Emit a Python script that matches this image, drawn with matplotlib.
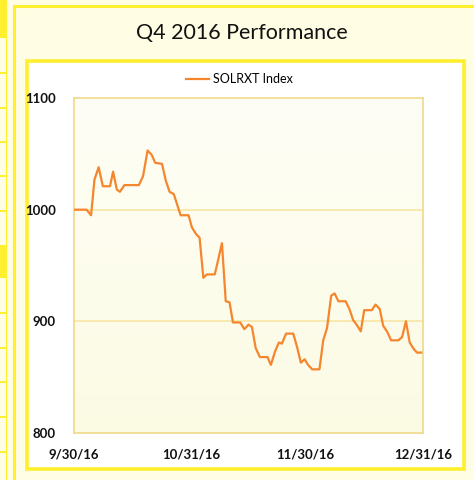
import matplotlib
matplotlib.use("Agg")
import matplotlib.pyplot as plt
import matplotlib.dates as mdates
from matplotlib.patches import Rectangle
from matplotlib.colors import LinearSegmentedColormap
import numpy as np
import pandas as pd

# ---- data ----
start_date = "2016-09-30"
day_offsets = [0, 3.3, 4.5, 5.4, 6.5, 7.6, 9.5, 10.3, 11.3, 12.1, 13.3, 17.1, 18.2, 19.4,
               20.5, 21.4, 23.2, 24.2, 25.2, 26.3, 28.1, 30.2, 31.1, 32.2, 33.1, 34.1,
               35.0, 37.1, 38.0, 39.0, 40.0, 41.0, 41.9, 43.8, 44.9, 46.0, 46.9, 47.9,
               49.0, 51.0, 51.9, 53.0, 54.0, 54.8, 55.9, 57.8, 58.8, 59.8, 60.8, 61.7,
               62.8, 64.7, 65.7, 66.7, 67.8, 68.7, 69.7, 71.6, 72.6, 73.6, 74.5, 75.6,
               76.5, 78.5, 79.5, 80.6, 81.5, 82.5, 83.6, 85.5, 86.5, 87.5, 88.5, 89.4,
               90.4, 91.5]
solrxt = [1000, 1000, 995, 1027, 1038, 1021, 1021, 1034, 1018, 1016, 1022, 1022, 1030, 1053,
          1049, 1042, 1041, 1026, 1016, 1014, 995, 995, 984, 978, 975, 939,
          942, 942, 955, 970, 918, 917, 899, 899, 893, 897, 895, 876,
          868, 868, 861, 873, 881, 880, 889, 889, 877, 863, 866, 861,
          857, 857, 883, 894, 923, 925, 918, 918, 911, 901, 897, 891,
          910, 910, 915, 911, 896, 891, 883, 883, 886, 900, 881, 876,
          872, 872]
series_name = "SOLRXT Index"
title = "Q4 2016 Performance"
xtick_dates = ["2016-09-30", "2016-10-31", "2016-11-30", "2016-12-31"]
xtick_labels = ["9/30/16", "10/31/16", "11/30/16", "12/31/16"]
yticks = [800, 900, 1000, 1100]

# ---- style ----
W, H = 474, 480
plt.rcParams['font.family'] = ['Lato', 'DejaVu Sans']
BG = "#FFFDE4"
YEL = "#FFEF2E"
fig = plt.figure(figsize=(W / 100, H / 100), dpi=100)
fig.patch.set_facecolor(BG)

def prect(x0, y0, x1, y1, **kw):
    r = Rectangle((x0 / W, 1 - y1 / H), (x1 - x0) / W, (y1 - y0) / H,
                  transform=fig.transFigure, zorder=-5, **kw)
    fig.patches.append(r)

# left strip (neighbouring table)
prect(0, 0, 6, 38, facecolor=YEL, edgecolor='none')
prect(0, 245, 6, 278, facecolor=YEL, edgecolor='none')
for yy in [73, 108, 142, 176, 211, 313, 348, 382, 417, 452]:
    prect(0, yy - 0.7, 6, yy + 0.7, facecolor=YEL, edgecolor='none')
prect(5.5, 0, 7, H, facecolor=YEL, edgecolor='none')

# outer card border
prect(14, 6, W + 5, H + 5, facecolor='none', edgecolor=YEL, linewidth=2.2)
# inner white box
prect(27, 61, 464, 469, facecolor='white', edgecolor=YEL, linewidth=2.6)

fig.text(242 / W, 1 - 33 / H, title, ha='center', va='center', fontsize=15.5,
         color='#111111')

ax = fig.add_axes([74 / W, 1 - 433 / H, 349 / W, 335 / H])
ax.set_zorder(5)
base = pd.Timestamp(start_date)
dates = [base + pd.Timedelta(days=d) for d in day_offsets]
xnum = mdates.date2num(dates)

# gradient background (lighter at top)
grad = np.linspace(0, 1, 256).reshape(-1, 1)
cmap = LinearSegmentedColormap.from_list("bg", ["#FFFEF6", "#FBFBE4"])
ax.imshow(grad, aspect='auto', cmap=cmap, extent=[0, 1, 0, 1], origin='upper',
          transform=ax.transAxes, zorder=0)

for v in [900, 1000]:
    ax.axhline(v, color='#F7E9AE', linewidth=1.4, zorder=1)

ax.plot(xnum, solrxt, color='#F5862E', linewidth=1.6, label=series_name, zorder=3)

ax.set_xlim(mdates.date2num(pd.Timestamp(xtick_dates[0])),
            mdates.date2num(pd.Timestamp(xtick_dates[-1])))
ax.set_ylim(800, 1100)
ax.set_yticks(yticks)
ax.set_yticklabels([str(v) for v in yticks], fontsize=9.5, fontweight='bold')
ax.set_xticks(mdates.date2num([pd.Timestamp(d) for d in xtick_dates]))
ax.set_xticklabels(xtick_labels, fontsize=9.5, fontweight='bold')
ax.tick_params(axis='both', length=0, colors='#111111')
ax.tick_params(axis='y', pad=13)
ax.tick_params(axis='x', pad=11)
for s in ax.spines.values():
    s.set_color('#F0D98A')
    s.set_linewidth(1.2)

leg = ax.legend(loc='center', bbox_to_anchor=(0.474, 1 + 19 / 335), frameon=False,
                fontsize=9, handlelength=1.8, handletextpad=0.3,
                borderpad=0, borderaxespad=0)

fig.savefig("out.png", dpi=100, facecolor=BG)
